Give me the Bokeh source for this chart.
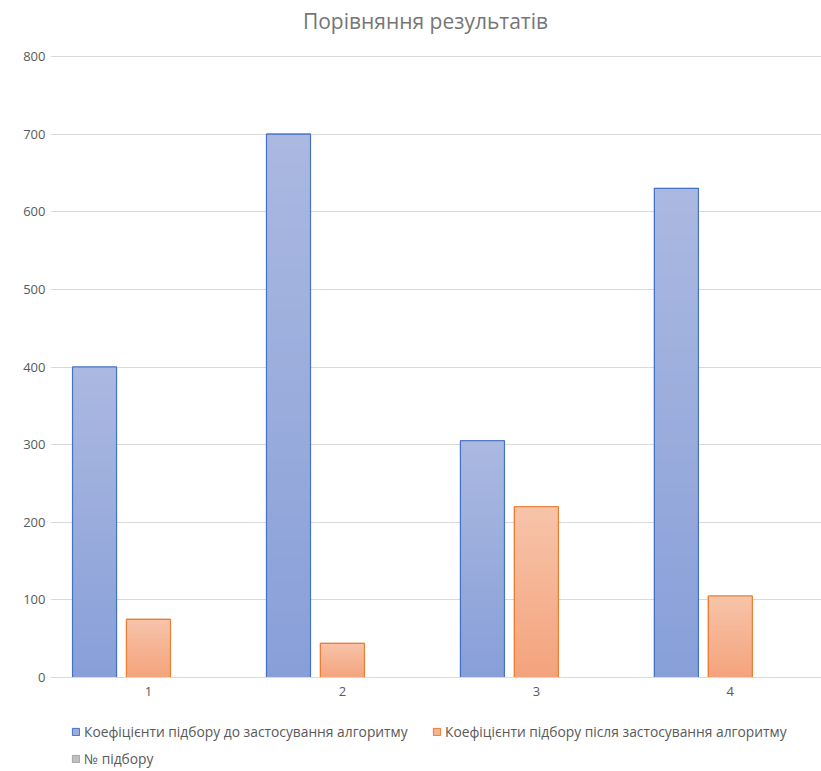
import numpy as np
from bokeh.plotting import figure
from bokeh.models import ColumnDataSource, FixedTicker, Legend, LegendItem, Range1d, Label
from bokeh.embed import file_html
from bokeh.resources import INLINE

# ---- data ----
categories = ["1", "2", "3", "4"]
before_vals = [400, 700, 305, 630]
after_vals = [75, 44, 220, 105]
pick_no_vals = [0, 0, 0, 0]  # listed in the legend, no visible bars
series_names = [
    "Коефіцієнти підбору до застосування алгоритму",
    "Коефіцієнти підбору після застосування алгоритму",
    "№ підбору",
]
y_ticks = [0, 100, 200, 300, 400, 500, 600, 700, 800]
title_text = "Порівняння результатів"

# ---- style ----
FONT = "Open Sans"
TXT = "#595959"
blue_top, blue_bot, blue_line = (171, 185, 225), (136, 159, 216), "#4472C4"
orng_top, orng_bot, orng_line = (247, 196, 170), (244, 163, 124), "#ED7D31"
gray_fill, gray_line = "#BFBFBF", "#A5A5A5"
offsets = [-0.278, 0.0, 0.278]
bar_w = 0.227
N = 40

W, H = 821, 771
LEFT = 50
TOP_Y, ZERO_Y = 56, 677               # pixel rows of the 800 and 0 gridlines
px_per_unit = (ZERO_Y - TOP_Y) / 800.0
y_start = -(H - ZERO_Y) / px_per_unit  # room under the baseline for labels + legend
y_end = 800 + TOP_Y / px_per_unit      # room above for the title

xs = np.arange(1, len(categories) + 1, dtype=float)


def hexc(rgb):
    return "#%02x%02x%02x" % tuple(int(round(c)) for c in rgb)


def mix(a, b, t):
    return tuple(a[i] + (b[i] - a[i]) * t for i in range(3))


def gradient_source(x, vals, top_rgb, bot_rgb):
    gx, gb, gt, gc = [], [], [], []
    for xi, v in zip(x, vals):
        for k in range(N):
            gx.append(xi)
            gb.append(v * k / N)
            gt.append(min(v, v * (k + 1.6) / N))
            gc.append(hexc(mix(bot_rgb, top_rgb, (k + 0.5) / N)))
    return ColumnDataSource(dict(x=gx, bottom=gb, top=gt, color=gc))


p = figure(
    width=W, height=H, output_backend="svg", toolbar_location=None,
    x_range=Range1d(0.495, 4.47), y_range=Range1d(y_start, y_end),
    min_border_left=LEFT, min_border_right=0, min_border_top=0, min_border_bottom=0,
)
p.outline_line_color = None
p.background_fill_color = "white"

title = Label(x=375, y=H - 20, x_units="screen", y_units="screen", text=title_text,
              text_align="center", text_baseline="middle", text_font=FONT,
              text_font_size="21px", text_color="#767676")
p.add_layout(title)

legend_items = []
series = [
    (before_vals, blue_top, blue_bot, blue_line, offsets[0]),
    (after_vals, orng_top, orng_bot, orng_line, offsets[1]),
]
for (vals, top_rgb, bot_rgb, line_c, off), name in zip(series, series_names[:2]):
    bx = xs + off
    solid = p.vbar(x=bx, top=vals, bottom=0, width=bar_w,
                   fill_color=hexc(mix(bot_rgb, top_rgb, 0.5)), line_color=line_c, line_width=1)
    src = gradient_source(bx, vals, top_rgb, bot_rgb)
    p.vbar(x="x", bottom="bottom", top="top", width=bar_w, fill_color="color",
           line_color=None, source=src)
    p.vbar(x=bx, top=vals, bottom=0, width=bar_w, fill_alpha=0, line_color=line_c, line_width=1.2)
    legend_items.append(LegendItem(label=name, renderers=[solid]))

gray = p.vbar(x=xs + offsets[2], top=pick_no_vals, bottom=0, width=bar_w,
              fill_color=gray_fill, line_color=gray_line, line_width=1)
gray.visible = False
legend_items.append(LegendItem(label=series_names[2], renderers=[gray]))

# axes
p.yaxis.ticker = FixedTicker(ticks=y_ticks)
p.yaxis.axis_line_color = None
p.yaxis.major_tick_line_color = None
p.yaxis.minor_tick_line_color = None
p.yaxis.major_tick_out = 0
p.yaxis.major_tick_in = 0
p.yaxis.major_label_text_font = FONT
p.yaxis.major_label_text_font_size = "13px"
p.yaxis.major_label_text_color = TXT
p.yaxis.major_label_standoff = 5

p.xaxis.fixed_location = 0
p.xaxis.ticker = FixedTicker(ticks=list(xs))
p.xaxis.major_label_overrides = {float(x): c for x, c in zip(xs, categories)}
p.xaxis.major_label_overrides.update({int(x): c for x, c in zip(xs, categories)})
p.xaxis.axis_line_color = "#D9D9D9"
p.xaxis.major_tick_line_color = None
p.xaxis.minor_tick_line_color = None
p.xaxis.major_tick_out = 0
p.xaxis.major_tick_in = 0
p.xaxis.major_label_text_font = FONT
p.xaxis.major_label_text_font_size = "13px"
p.xaxis.major_label_text_color = TXT
p.xaxis.major_label_standoff = 9

p.xgrid.grid_line_color = None
p.ygrid.grid_line_color = "#D9D9D9"
p.ygrid.grid_line_width = 1
p.ygrid.ticker = FixedTicker(ticks=y_ticks)

legend = Legend(items=legend_items, location=(21, 3), ncols=2,
                orientation="horizontal")
legend.border_line_alpha = 0
legend.background_fill_alpha = 0
legend.padding = 0
legend.margin = 0
legend.spacing = 8
legend.glyph_width = 9
legend.glyph_height = 9
legend.label_standoff = 4
legend.label_height = 18
legend.label_width = 340
legend.label_text_font = FONT
legend.label_text_font_size = "13.8px"
legend.label_text_color = TXT
legend.inactive_fill_alpha = 0
p.add_layout(legend, "center")

open("out.html", "w").write(file_html(p, INLINE))
